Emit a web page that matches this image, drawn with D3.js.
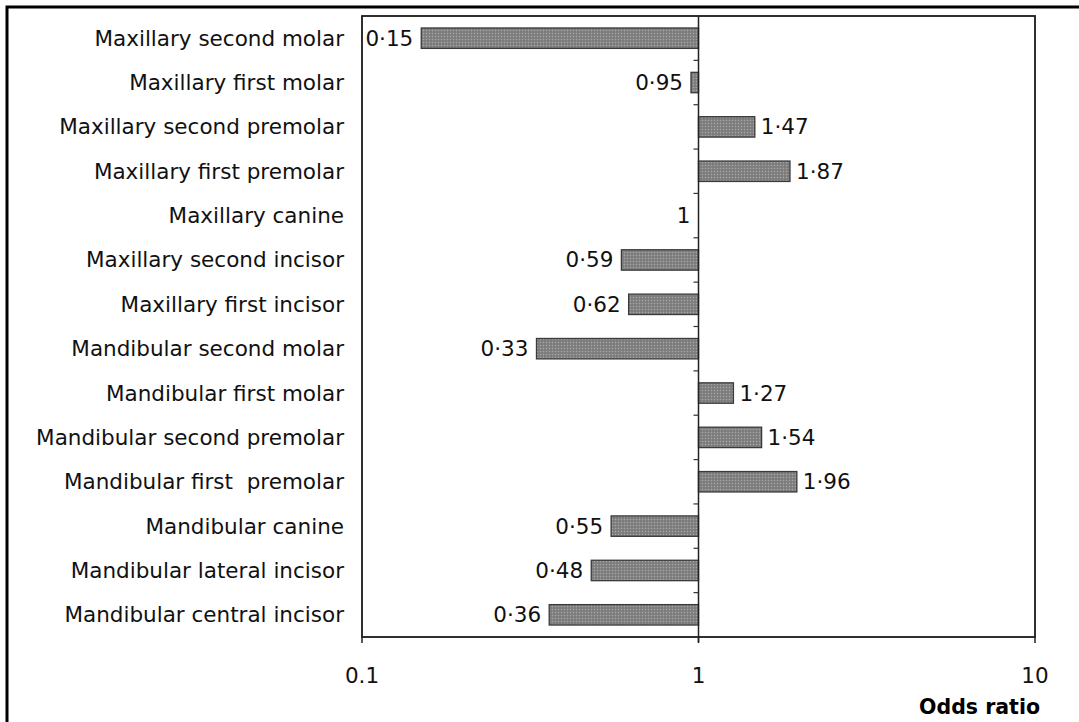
<!DOCTYPE html>
<html>
<head>
<meta charset="utf-8">
<script src="https://cdn.jsdelivr.net/npm/d3@7"></script>
<style>
  body { margin: 0; background: #fff; }
  svg { display: block; font-family: "DejaVu Sans", Verdana, sans-serif; }
</style>
</head>
<body>
<div id="chart"></div>
<script>
// Odds ratios per tooth type, log-scale horizontal bars around OR = 1

const teeth = [
    'Maxillary second molar',
    'Maxillary first molar',
    'Maxillary second premolar',
    'Maxillary first premolar',
    'Maxillary canine',
    'Maxillary second incisor',
    'Maxillary first incisor',
    'Mandibular second molar',
    'Mandibular first molar',
    'Mandibular second premolar',
    'Mandibular first  premolar',
    'Mandibular canine',
    'Mandibular lateral incisor',
    'Mandibular central incisor'
];

const oddsRatios = [0.15, 0.95, 1.47, 1.87, 1, 0.59, 0.62, 0.33, 1.27, 1.54, 1.96, 0.55, 0.48, 0.36];

const xTicks = [0.1, 1, 10];
const xTickLabels = ['0.1', '1', '10'];

const W = 1079, H = 722;
const plot = {left: 362, right: 1035, top: 16, bottom: 637};
const FS = 21.5;

const svg = d3.select('#chart').append('svg')
    .attr('width', W)
    .attr('height', H);

// outer frame
svg.append('rect')
    .attr('x', 7).attr('y', 7)
    .attr('width', W + 10).attr('height', H + 10)
    .attr('fill', 'none')
    .attr('stroke', '#000')
    .attr('stroke-width', 3);

const x = d3.scaleLog()
    .domain([0.1, 10])
    .range([plot.left, plot.right]);

const y = d3.scaleBand()
    .domain(teeth)
    .range([plot.top, plot.bottom])
    .paddingInner(0.54)
    .paddingOuter(0.27);

// bar texture
const defs = svg.append('defs');
const pat = defs.append('pattern')
    .attr('id', 'dots')
    .attr('width', 3).attr('height', 3)
    .attr('patternUnits', 'userSpaceOnUse');
pat.append('rect').attr('width', 3).attr('height', 3).attr('fill', '#858585');
pat.append('rect').attr('width', 1).attr('height', 1).attr('fill', '#a8a8a8');
pat.append('rect').attr('x', 1.5).attr('y', 1.5).attr('width', 1).attr('height', 1).attr('fill', '#626262');

// plot box
svg.append('rect')
    .attr('x', plot.left).attr('y', plot.top)
    .attr('width', plot.right - plot.left)
    .attr('height', plot.bottom - plot.top)
    .attr('fill', 'none')
    .attr('stroke', '#1a1a1a')
    .attr('stroke-width', 1.8);

const data = teeth.map((t, i) => ({tooth: t, or: oddsRatios[i]}));

svg.append('g')
    .selectAll('rect')
    .data(data)
    .join('rect')
    .attr('x', d => Math.min(x(d.or), x(1)))
    .attr('y', d => y(d.tooth))
    .attr('width', d => Math.abs(x(d.or) - x(1)))
    .attr('height', y.bandwidth())
    .attr('fill', 'url(#dots)')
    .attr('stroke', '#3a3a3a')
    .attr('stroke-width', 1.3);

// category axis sits on OR = 1, ticks between bands
const bandStep = y.step();
const boundaries = d3.range(1, teeth.length).map(i => plot.top + y.paddingOuter() * bandStep - y.paddingInner() * bandStep / 2 + i * bandStep);
svg.append('line')
    .attr('x1', x(1)).attr('x2', x(1))
    .attr('y1', plot.top).attr('y2', plot.bottom + 5)
    .attr('stroke', '#222')
    .attr('stroke-width', 1.5);
svg.append('g')
    .selectAll('line')
    .data(boundaries)
    .join('line')
    .attr('x1', x(1) - 5).attr('x2', x(1))
    .attr('y1', d => d).attr('y2', d => d)
    .attr('stroke', '#333')
    .attr('stroke-width', 1.2);

// category labels
svg.append('g')
    .selectAll('text')
    .data(teeth)
    .join('text')
    .attr('x', plot.left - 18)
    .attr('y', d => y(d) + y.bandwidth() / 2)
    .attr('dy', '0.35em')
    .attr('text-anchor', 'end')
    .attr('font-size', FS)
    .attr('fill', '#111')
    .style('white-space', 'pre')
    .text(d => d);

// value labels with middle dot decimal
const fmt = v => String(v).replace('.', '\u00B7');
svg.append('g')
    .selectAll('text')
    .data(data)
    .join('text')
    .attr('x', d => d.or > 1 ? x(d.or) + 6 : x(d.or) - 8)
    .attr('y', d => y(d.tooth) + y.bandwidth() / 2)
    .attr('dy', '0.35em')
    .attr('text-anchor', d => d.or > 1 ? 'start' : 'end')
    .attr('font-size', FS)
    .attr('fill', '#111')
    .text(d => fmt(d.or));

// bottom axis
const xAxis = svg.append('g')
    .attr('transform', `translate(0,${plot.bottom})`);
xAxis.selectAll('line')
    .data(xTicks)
    .join('line')
    .attr('x1', d => x(d)).attr('x2', d => x(d))
    .attr('y1', 0).attr('y2', 6)
    .attr('stroke', '#222')
    .attr('stroke-width', 1.5);
xAxis.selectAll('text')
    .data(xTicks)
    .join('text')
    .attr('x', d => x(d))
    .attr('y', 38)
    .attr('dy', '0.35em')
    .attr('text-anchor', 'middle')
    .attr('font-size', FS)
    .attr('fill', '#111')
    .text((d, i) => xTickLabels[i]);

svg.append('text')
    .attr('x', plot.right + 5)
    .attr('y', 714)
    .attr('text-anchor', 'end')
    .attr('font-size', FS - 1)
    .attr('font-weight', 'bold')
    .attr('fill', '#000')
    .text('Odds ratio');
</script>
</body>
</html>
